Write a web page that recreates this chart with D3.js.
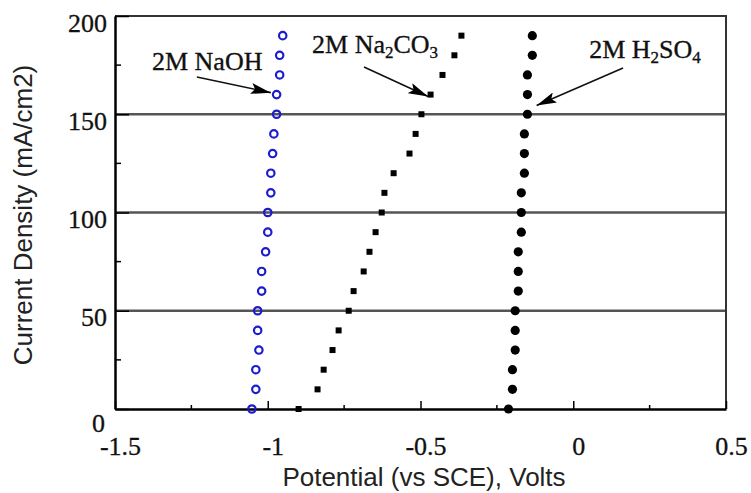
<!DOCTYPE html>
<html>
<head>
<meta charset="utf-8">
<script src="https://cdn.jsdelivr.net/npm/d3@7"></script>
<style>
  body { margin: 0; background: #fff; }
  svg { display: block; }
</style>
</head>
<body>
<div id="chart"></div>
<script>
(function(){
    "use strict";

    // current density levels (mA/cm2), bottom to top
    var current = [0, 10, 20, 30, 40, 50, 60, 70, 80, 90, 100, 110, 120, 130, 140, 150, 160, 170, 180, 190];

    // potential (V vs SCE) read for each level
    var naohV = [-1.052, -1.039, -1.039, -1.029, -1.033, -1.033, -1.020, -1.020, -1.007, -1.000,
                 -1.000, -0.990, -0.990, -0.984, -0.980, -0.971, -0.971, -0.961, -0.961, -0.951];
    var na2co3V = [-0.899, -0.837, -0.817, -0.788, -0.768, -0.735, -0.719, -0.686, -0.667, -0.647,
                   -0.627, -0.618, -0.588, -0.536, -0.516, -0.497, -0.467, -0.428, -0.389, -0.366];
    var h2so4V = [-0.212, -0.199, -0.199, -0.190, -0.190, -0.190, -0.180, -0.180, -0.180, -0.170,
                  -0.170, -0.170, -0.160, -0.160, -0.160, -0.150, -0.150, -0.150, -0.134, -0.134];

    var xTicks = [-1.5, -1, -0.5, 0, 0.5];
    var xMinor = [-1.25, -0.75, -0.25, 0.25];
    var yTicks = [0, 50, 100, 150, 200];
    var yMinor = [25, 75, 125, 175];
    var gridLevels = [50, 100, 150];

    // labels: text start, arrow tail, arrow tip (data units)
    var labels = [
        { parts: [["2M NaOH", 0]], at: [-1.379, 172.4], tail: [-1.232, 169], tip: [-0.99, 161] },
        { parts: [["2M Na", 0], ["2", 1], ["CO", 0], ["3", 1]], at: [-0.855, 181], tail: [-0.685, 174], tip: [-0.475, 159] },
        { parts: [["2M H", 0], ["2", 1], ["SO", 0], ["4", 1]], at: [0.052, 178.6], tail: [0.163, 173.5], tip: [-0.12, 154.5] }
    ];

    var width = 751, height = 493;
    var serif = "'Liberation Serif', 'Times New Roman', serif";
    var sans = "'Liberation Sans', Arial, sans-serif";
    var fs = 26;

    var svg = d3.select("#chart").append("svg")
        .attr("width", width)
        .attr("height", height);

    var x = d3.scaleLinear().domain([-1.5, 0.5]).range([115, 726]);
    var y = d3.scaleLinear().domain([0, 200]).range([409, 16]);

    svg.append("defs").append("marker")
        .attr("id", "head")
        .attr("viewBox", "0 0 20 11")
        .attr("refX", 20)
        .attr("refY", 5.5)
        .attr("markerWidth", 20)
        .attr("markerHeight", 11)
        .attr("markerUnits", "userSpaceOnUse")
        .attr("orient", "auto")
        .append("path")
        .attr("d", "M0,0L20,5.5L0,11L4,5.5Z")
        .attr("fill", "#000");

    // grid lines
    svg.selectAll("line.grid")
        .data(gridLevels)
        .enter()
        .append("line")
        .attr("class", "grid")
        .attr("x1", x(-1.5))
        .attr("x2", x(0.5))
        .attr("y1", function(d) { return y(d); })
        .attr("y2", function(d) { return y(d); })
        .attr("stroke", "#555")
        .attr("stroke-width", 2.5);

    // frame top and right
    svg.append("path")
        .attr("d", "M" + x(-1.5) + "," + y(200) + "H" + x(0.5) + "V" + y(0))
        .attr("fill", "none")
        .attr("stroke", "#333")
        .attr("stroke-width", 2);

    // x axis
    var xAxis = svg.append("g")
        .attr("transform", "translate(0," + y(0) + ")")
        .call(d3.axisBottom(x).tickValues(xTicks).tickSizeInner(-8).tickSizeOuter(0)
            .tickFormat(function(d) { return String(d); }));
    xAxis.select(".domain").attr("stroke", "#000").attr("stroke-width", 2.5);
    xAxis.selectAll(".tick line").attr("stroke-width", 1.5);
    xAxis.selectAll(".tick text")
        .attr("y", 46)
        .attr("dy", 0)
        .attr("dx", 5)
        .attr("font-family", serif)
        .attr("font-size", fs)
        .attr("fill", "#111")
        .attr("stroke", "#111")
        .attr("stroke-width", 0.3);

    xAxis.selectAll("line.minor")
        .data(xMinor)
        .enter()
        .append("line")
        .attr("class", "minor")
        .attr("x1", function(d) { return x(d); })
        .attr("x2", function(d) { return x(d); })
        .attr("y1", 0)
        .attr("y2", -4)
        .attr("stroke", "#000")
        .attr("stroke-width", 1.5);

    // y axis
    var yAxis = svg.append("g")
        .attr("transform", "translate(" + x(-1.5) + ",0)")
        .call(d3.axisLeft(y).tickValues(yTicks).tickSizeInner(-14).tickSizeOuter(0));
    yAxis.select(".domain").attr("stroke", "#000").attr("stroke-width", 2.5);
    yAxis.selectAll(".tick line").attr("stroke-width", 1.5);
    yAxis.selectAll(".tick text")
        .attr("x", function(d) { return d === 0 ? -10 : -8; })
        .attr("y", function(d) { return d === 0 ? 22 : 15; })
        .attr("dy", 0)
        .attr("font-family", serif)
        .attr("font-size", fs)
        .attr("fill", "#111")
        .attr("stroke", "#111")
        .attr("stroke-width", 0.3);

    yAxis.selectAll("line.minor")
        .data(yMinor)
        .enter()
        .append("line")
        .attr("class", "minor")
        .attr("x1", 0)
        .attr("x2", 6)
        .attr("y1", function(d) { return y(d); })
        .attr("y2", function(d) { return y(d); })
        .attr("stroke", "#000")
        .attr("stroke-width", 1.5);

    // axis titles
    svg.append("text")
        .attr("transform", "translate(32,215) rotate(-90)")
        .attr("text-anchor", "middle")
        .attr("font-family", sans)
        .attr("font-size", fs)
        .attr("fill", "#222")
        .text("Current Density (mA/cm2)");

    svg.append("text")
        .attr("x", 424)
        .attr("y", 486)
        .attr("text-anchor", "middle")
        .attr("font-family", sans)
        .attr("font-size", fs)
        .attr("fill", "#222")
        .text("Potential (vs SCE), Volts");

    // series
    svg.selectAll("circle.naoh")
        .data(current)
        .enter()
        .append("circle")
        .attr("class", "naoh")
        .attr("cx", function(d, i) { return x(naohV[i]); })
        .attr("cy", function(d) { return y(d); })
        .attr("r", 3.7)
        .attr("fill", "none")
        .attr("stroke", "#1c1ccf")
        .attr("stroke-width", 2.2);

    svg.selectAll("rect.na2co3")
        .data(current)
        .enter()
        .append("rect")
        .attr("class", "na2co3")
        .attr("x", function(d, i) { return x(na2co3V[i]) - 3; })
        .attr("y", function(d) { return y(d) - 3; })
        .attr("width", 6)
        .attr("height", 6)
        .attr("fill", "#000");

    svg.selectAll("circle.h2so4")
        .data(current)
        .enter()
        .append("circle")
        .attr("class", "h2so4")
        .attr("cx", function(d, i) { return x(h2so4V[i]); })
        .attr("cy", function(d) { return y(d); })
        .attr("r", 4.6)
        .attr("fill", "#000");

    // annotations
    labels.forEach(function(lab) {
        var t = svg.append("text")
            .attr("x", x(lab.at[0]))
            .attr("y", y(lab.at[1]))
            .attr("font-family", serif)
            .attr("font-size", fs)
            .attr("fill", "#111")
            .attr("stroke", "#111")
            .attr("stroke-width", 0.35);
        lab.parts.forEach(function(p, i) {
            var prev = i > 0 ? lab.parts[i - 1][1] : 0;
            t.append("tspan")
                .attr("dy", p[1] === prev ? 0 : (p[1] ? 5 : -5))
                .attr("font-size", p[1] ? 17 : fs)
                .text(p[0]);
        });

        svg.append("line")
            .attr("x1", x(lab.tail[0]))
            .attr("y1", y(lab.tail[1]))
            .attr("x2", x(lab.tip[0]))
            .attr("y2", y(lab.tip[1]))
            .attr("stroke", "#111")
            .attr("stroke-width", 1.6)
            .attr("marker-end", "url(#head)");
    });
})();
</script>
</body>
</html>
